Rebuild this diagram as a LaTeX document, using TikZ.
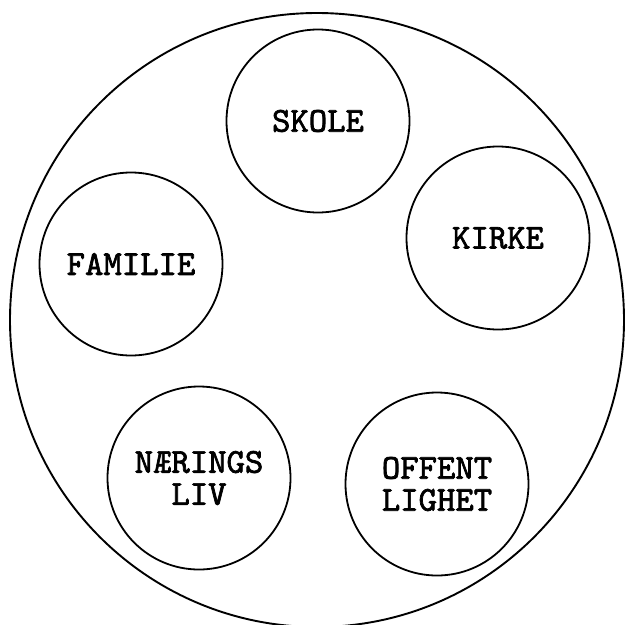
\documentclass[tikz,border=0pt]{standalone}
\usepackage{fontspec}
\newfontfamily\typewriter{lmmono10-regular.otf}[FakeBold=2]
\usetikzlibrary{positioning}

\begin{document}
\begin{tikzpicture}[
    x=1pt, y=-1pt,
    font=\typewriter\fontsize{35}{32}\selectfont,
    society/.style={draw, circle, line width=1.9pt, minimum size=614pt, inner sep=0pt},
    sector/.style={draw, circle, line width=1.8pt, minimum size=183pt, inner sep=0pt,
                   align=center},
]
\useasboundingbox (0,0) rectangle (626,624);

% === Outer circle ===
\node[society] (samfunn) at (317, 320) {};

% === Sectors ===
\node[sector] (skole)   at (318, 121) {SKOLE};
\node[sector] (kirke)   at (498, 238) {KIRKE};
\node[sector] (familie) at (131, 264) {FAMILIE};
\node[sector] (naering) at (199, 478) {NÆRINGS\\LIV};
\node[sector] (offent)  at (437, 484) {OFFENT\\LIGHET};

\end{tikzpicture}
\end{document}
